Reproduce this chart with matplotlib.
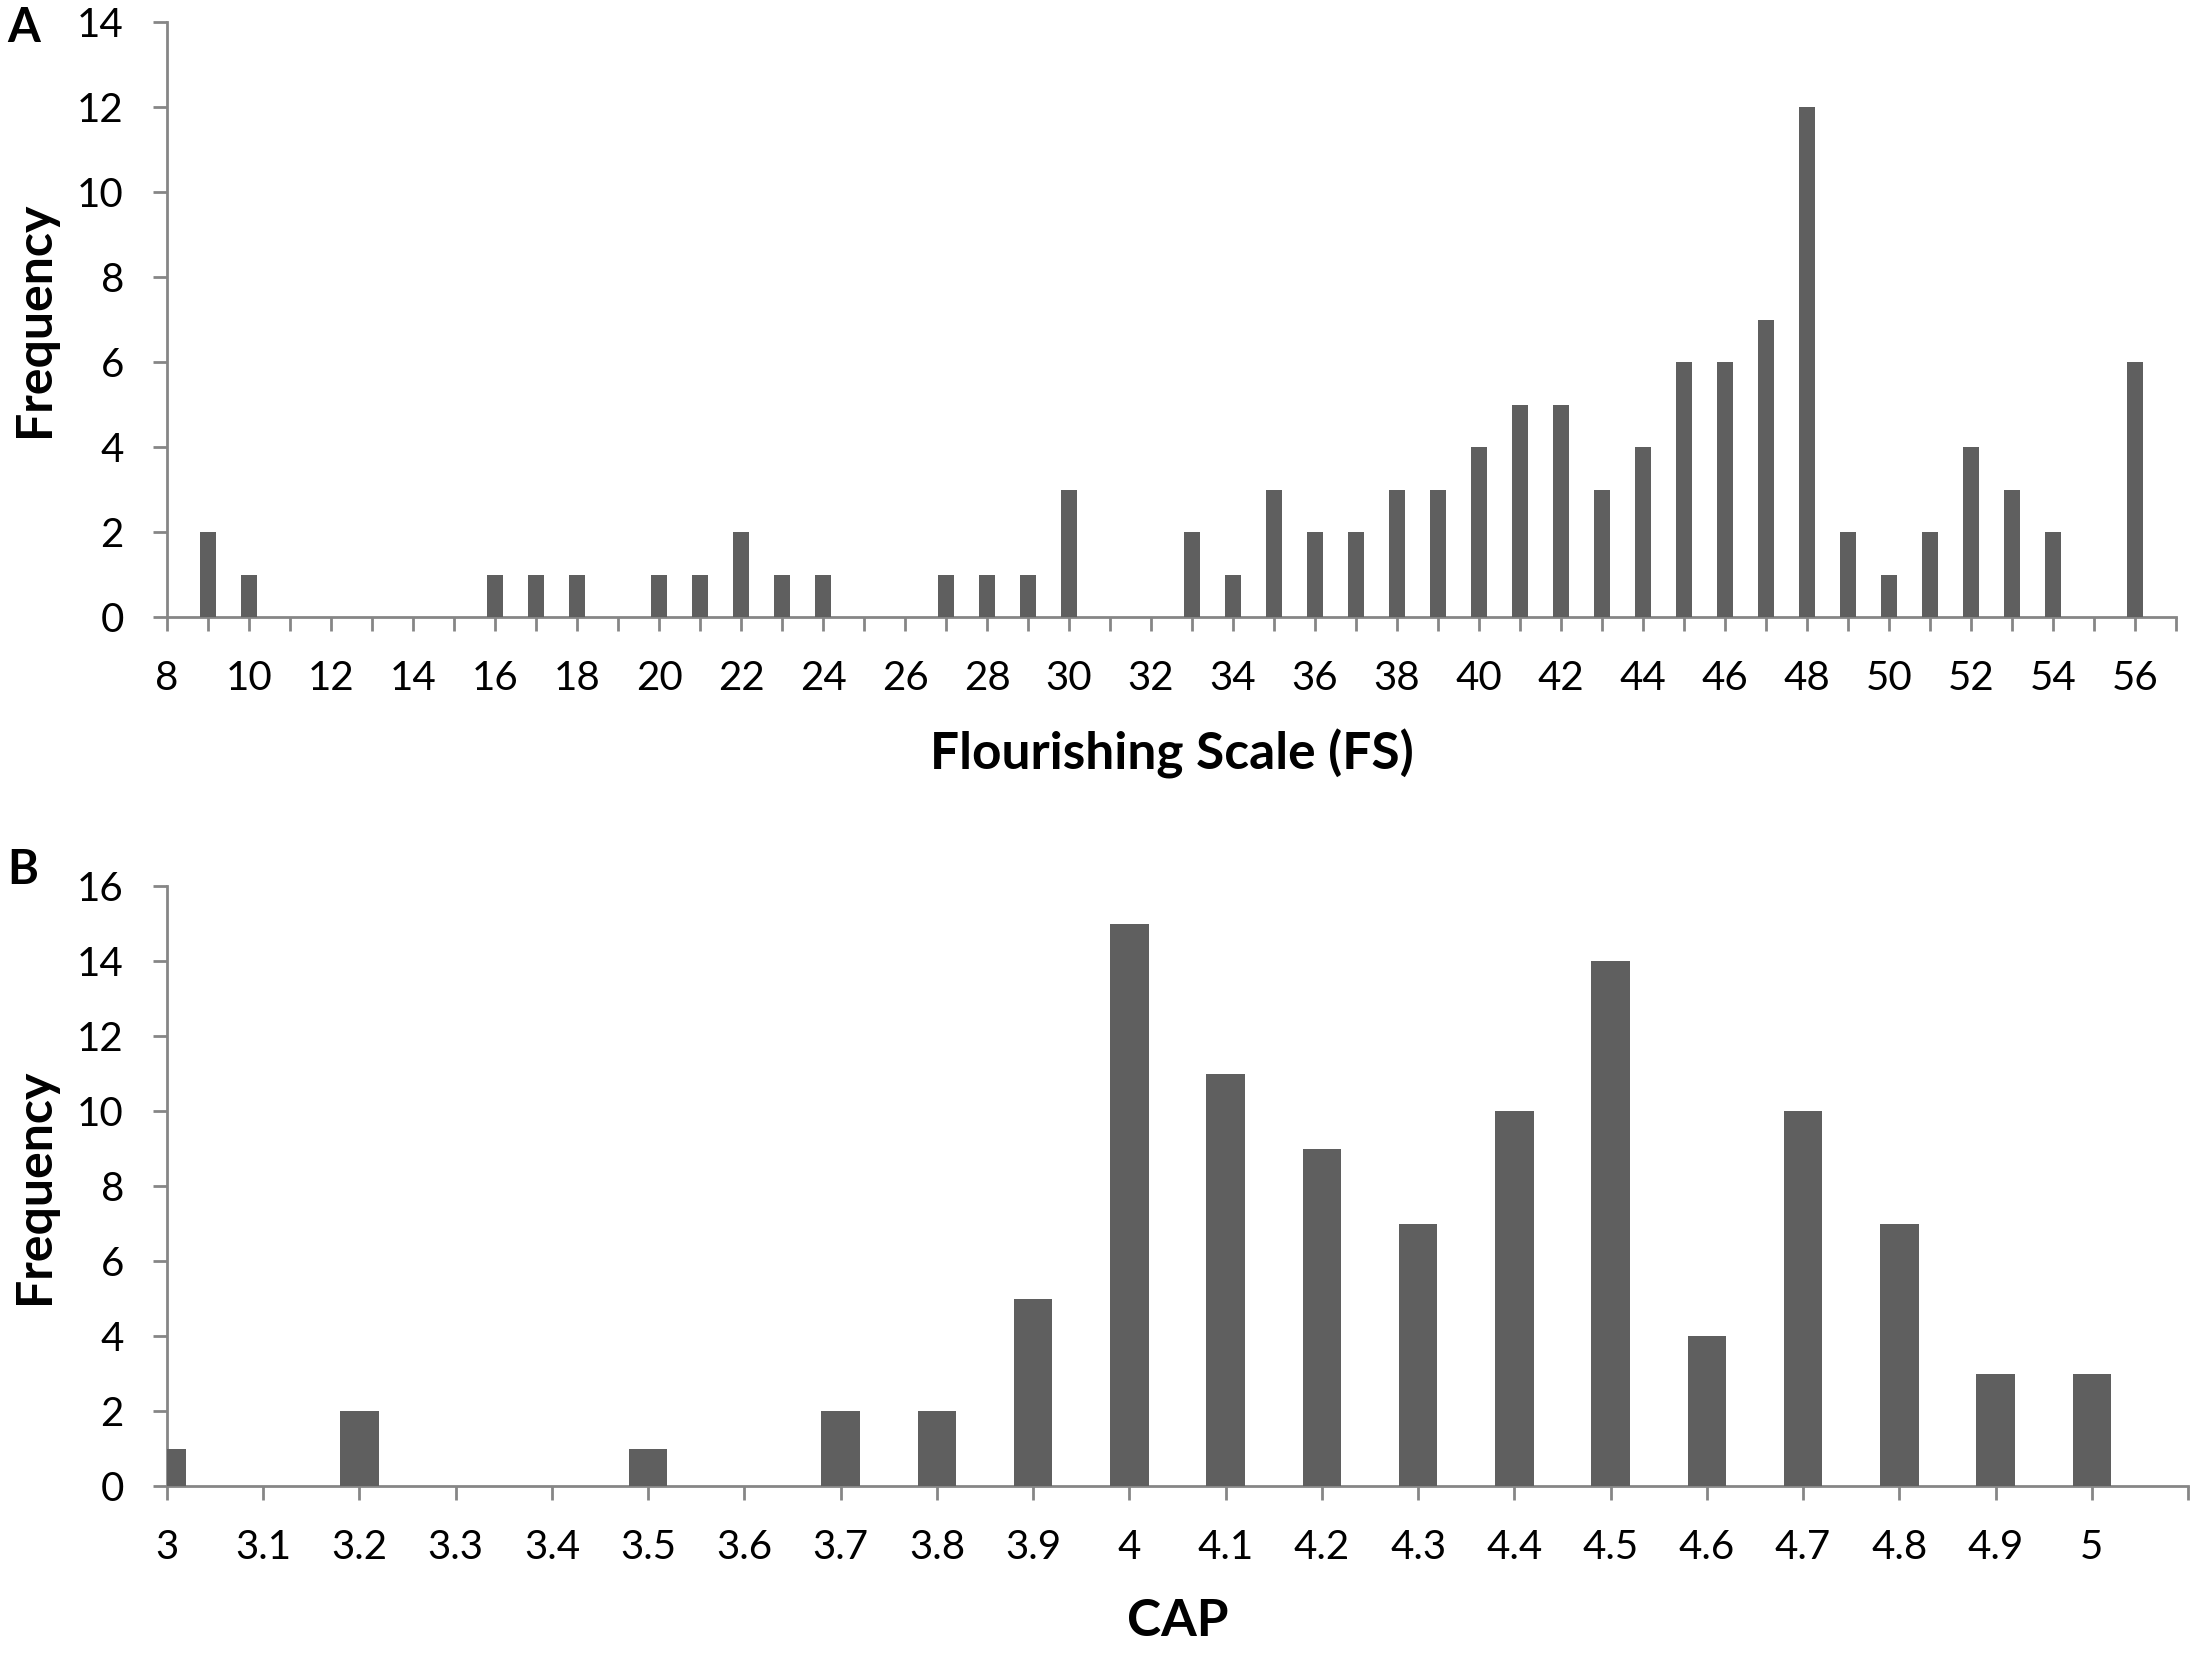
import matplotlib
matplotlib.use("Agg")
import matplotlib.pyplot as plt
import numpy as np

plt.rcParams['font.family'] = ['Lato', 'DejaVu Sans']

# Panel A: Flourishing Scale (FS)
fs_values = [9, 10, 16, 17, 18, 20, 21, 22, 23, 24, 27, 28, 29, 30, 33, 34, 35, 36, 37,
             38, 39, 40, 41, 42, 43, 44, 45, 46, 47, 48, 49, 50, 51, 52, 53, 54, 56]
fs_freq = [2, 1, 1, 1, 1, 1, 1, 2, 1, 1, 1, 1, 1, 3, 2, 1, 3, 2, 2,
           3, 3, 4, 5, 5, 3, 4, 6, 6, 7, 12, 2, 1, 2, 4, 3, 2, 6]
fs_ticklabels = [str(v) for v in range(8, 57, 2)]

# Panel B: CAP
cap_values = [3.0, 3.2, 3.5, 3.7, 3.8, 3.9, 4.0, 4.1, 4.2, 4.3, 4.4, 4.5, 4.6, 4.7, 4.8, 4.9, 5.0]
cap_freq = [1, 2, 1, 2, 2, 5, 15, 11, 9, 7, 10, 14, 4, 10, 7, 3, 3]
cap_ticklabels = ['3', '3.1', '3.2', '3.3', '3.4', '3.5', '3.6', '3.7', '3.8', '3.9', '4',
                  '4.1', '4.2', '4.3', '4.4', '4.5', '4.6', '4.7', '4.8', '4.9', '5']

W, H = 2198, 1654
DPI = 200
fig = plt.figure(figsize=(W / DPI, H / DPI), dpi=DPI)

bar_color = '#5f5f5f'
spine_color = '#868686'

def px_axes(l, t, r, b):
    return [l / W, 1 - b / H, (r - l) / W, (b - t) / H]

axA = fig.add_axes(px_axes(167, 22, 2176, 617))
axB = fig.add_axes(px_axes(167, 886, 2188, 1486))

def style(ax):
    for s in ['top', 'right']:
        ax.spines[s].set_visible(False)
    for s in ['left', 'bottom']:
        ax.spines[s].set_color(spine_color)
        ax.spines[s].set_linewidth(1.0)
    ax.tick_params(axis='both', which='both', direction='out', length=5,
                   width=1.0, color=spine_color, labelcolor='black',
                   labelsize=14.5, pad=10.5)

# Panel A
axA.bar(fs_values, fs_freq, width=0.4, color=bar_color, zorder=3)
axA.set_xlim(8, 57)
axA.set_ylim(0, 14)
axA.set_yticks(np.arange(0, 15, 2))
axA.set_xticks(np.arange(8, 58, 1))
labelsA = []
for v in range(8, 58):
    labelsA.append(str(v) if str(v) in fs_ticklabels else '')
axA.set_xticklabels(labelsA)
style(axA)
axA.set_xlabel('Flourishing Scale (FS)', fontsize=18.5, fontweight='bold')
axA.xaxis.set_label_coords(0.5, (617 - 754) / (617 - 22))
axA.xaxis.label.set_va('center')
axA.set_ylabel('Frequency', fontsize=18, fontweight='bold')
axA.yaxis.set_label_coords((34 - 167) / (2176 - 167), 0.5)
axA.yaxis.label.set_va('center')

# Panel B
axB.bar(cap_values, cap_freq, width=0.04, color=bar_color, zorder=3)
axB.set_xlim(3.0, 5.1)
axB.set_ylim(0, 16)
axB.set_yticks(np.arange(0, 17, 2))
axB.set_xticks([3.0 + 0.1 * i for i in range(len(cap_ticklabels))] + [5.1])
axB.set_xticklabels(cap_ticklabels + [''])
style(axB)
axB.set_xlabel('CAP', fontsize=18.5, fontweight='bold')
axB.xaxis.set_label_coords(0.5, (1486 - 1622) / (1486 - 886))
axB.xaxis.label.set_va('center')
axB.set_ylabel('Frequency', fontsize=18, fontweight='bold')
axB.yaxis.set_label_coords((34 - 167) / (2188 - 167), 0.5)
axB.yaxis.label.set_va('center')

fig.text(7 / W, 1 - 28 / H, 'A', fontsize=17, fontweight='bold', ha='left', va='center')
fig.text(7 / W, 1 - 870 / H, 'B', fontsize=17, fontweight='bold', ha='left', va='center')

fig.savefig('out.png', dpi=DPI, facecolor='white')
